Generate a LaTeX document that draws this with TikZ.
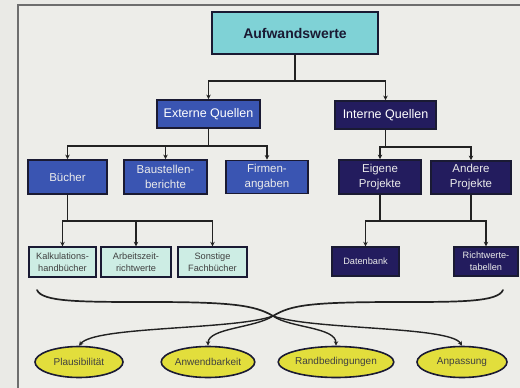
\documentclass[tikz,border=0pt]{standalone}
\usepackage{fontspec}
\setmainfont{Liberation Sans}
\usetikzlibrary{arrows.meta,shapes.geometric,calc}
\definecolor{pagebg}{HTML}{EAEAE6}
\definecolor{panelbg}{HTML}{EDEDE9}
\definecolor{framecol}{HTML}{6E6E6E}
\definecolor{edgecol}{HTML}{1A1A33}
\definecolor{topfill}{HTML}{7FD2D6}
\definecolor{extfill}{HTML}{3A55B2}
\definecolor{intfill}{HTML}{231C5E}
\definecolor{leaffill}{HTML}{CDEDE4}
\definecolor{ovalfill}{HTML}{E2DE3C}
\definecolor{linecol}{HTML}{222222}
\tikzset{
  box/.style={draw=edgecol, line width=1.8pt, inner sep=0.5pt, align=center, font=\sffamily},
  topbox/.style={box, fill=topfill, text=edgecol, font=\bfseries\fontsize{14}{16}\selectfont},
  extbox/.style={box, fill=extfill, text=white, font=\fontsize{12.5}{15}\selectfont},
  intbox/.style={box, fill=intfill, text=white, font=\fontsize{12.5}{15}\selectfont},
  extsub/.style={box, fill=extfill, text=white!92!black, font=\fontsize{11.5}{15}\selectfont},
  intsub/.style={box, fill=intfill, text=white!92!black, font=\fontsize{11.5}{15}\selectfont},
  leaf/.style={box, line width=1.4pt, fill=leaffill, text=black!75, font=\fontsize{9.2}{12}\selectfont},
  intleaf/.style={box, line width=1.4pt, fill=intfill, text=white!92!black, font=\fontsize{9.2}{12}\selectfont},
  oval/.style={ellipse, draw=edgecol, line width=1.6pt, fill=ovalfill, inner sep=0pt, text=black!75, font=\fontsize{10}{12}\selectfont},
  arr/.style={draw=linecol, line width=1.4pt, -{Stealth[length=4.5pt,width=4.5pt]}},
  link/.style={draw=linecol, line width=1.4pt},
  brace/.style={draw=linecol, line width=1.7pt},
}
\begin{document}
\begin{tikzpicture}[x=1pt,y=-1pt]
  % page and framed panel
  \fill[pagebg] (0,0) rectangle (520,388);
  \useasboundingbox (0,0) rectangle (520,388);
  \fill[panelbg] (18,5) rectangle (520,388);
  \draw[framecol, line width=1.5pt] (18,388) -- (18,5) -- (520,5);

  % boxes
  \node[topbox, minimum width=166pt, minimum height=42pt] (top) at (295,33) {Aufwandswerte};
  \node[extbox, minimum width=103pt, minimum height=28pt] (ext) at (208.5,114) {Externe Quellen};
  \node[intbox, minimum width=101pt, minimum height=28pt] (int) at (385.5,115) {Interne Quellen};

  \node[extsub, minimum width=79pt, minimum height=34pt] (b1) at (67.5,177) {Bücher};
  \node[extsub, minimum width=83pt, minimum height=34pt] (b2) at (165.5,177) {Baustellen-\\berichte};
  \node[extsub, minimum width=82pt, minimum height=33pt] (b3) at (267,177) {Firmen-\\angaben};
  \node[intsub, minimum width=82pt, minimum height=34pt] (e1) at (380,177) {Eigene\\Projekte};
  \node[intsub, minimum width=80pt, minimum height=33pt] (e2) at (471,177.5) {Andere\\Projekte};

  \node[leaf, minimum width=67pt, minimum height=30pt] (k1) at (62.5,262) {Kalkulations-\\handbücher};
  \node[leaf, minimum width=70pt, minimum height=30pt] (k2) at (136,262) {Arbeitszeit-\\richtwerte};
  \node[leaf, minimum width=69pt, minimum height=30pt] (k3) at (212.5,262) {Sonstige\\Fachbücher};
  \node[intleaf, minimum width=67pt, minimum height=29pt] (d1) at (365.5,261.5) {Datenbank};
  \node[intleaf, minimum width=64pt, minimum height=29pt] (d2) at (486,261.5) {Richtwerte-\\tabellen};

  \node[oval, minimum width=88pt, minimum height=31pt] (p1) at (79,362) {Plausibilität};
  \node[oval, minimum width=91pt, minimum height=31pt] (p2) at (208,362) {Anwendbarkeit};
  \node[oval, minimum width=88pt, minimum height=31pt] (p3) at (336,362) {Randbedingungen};
  \node[oval, minimum width=90pt, minimum height=31pt] (p4) at (462,362) {Anpassung};

  % tree connectors
  \draw[arr] (top.south) -- ++(0,26) -| (ext.north);
  \draw[arr] (top.south) -- ++(0,26) -| (int.north);

  \draw[arr] (ext.south) -- ++(0,17) -| (b1.north);
  \draw[arr] (ext.south) -- ++(0,17) -| (b2.north);
  \draw[arr] (ext.south) -- ++(0,17) -| (b3.north);

  \draw[arr] (int.south) -- ++(0,17) -| (e1.north);
  \draw[arr] (int.south) -- ++(0,17) -| (e2.north);

  \draw[arr] (b1.south) -- ++(0,26) -| (k1.north);
  \draw[arr] (b1.south) -- ++(0,26) -| (k2.north);
  \draw[arr] (b1.south) -- ++(0,26) -| (k3.north);

  \draw[link] ($(e1.south)+(0,26)$) -- ($(e2.south)+(0,26)$);
  \draw[arr] (e1.south) -- ++(0,26) -| (d1.north);
  \draw[arr] (e2.south) -- ++(0,26) -| (d2.north);

  % gathering brace and its branches
  \coordinate (cl) at (37,290);
  \coordinate (cr) at (503,290);
  \coordinate (cm) at (273,316);
  \draw[brace, line cap=round] (cl) .. controls (42,302) and (80,302) .. (150,302)
        .. controls (230,302) and (255,305) .. (cm);
  \draw[brace, line cap=round] (cr) .. controls (498,302) and (460,302) .. (400,302)
        .. controls (310,302) and (291,305) .. (cm);
  \draw[arr] (cm) .. controls (235,330) and (95,326) .. (p1.north);
  \draw[arr] (cm) .. controls (255,328) and (208,328) .. (p2.north);
  \draw[arr] (cm) .. controls (290,328) and (336,327) .. (p3.north);
  \draw[arr] (cm) .. controls (312,330) and (450,326) .. (p4.north);
\end{tikzpicture}
\end{document}
